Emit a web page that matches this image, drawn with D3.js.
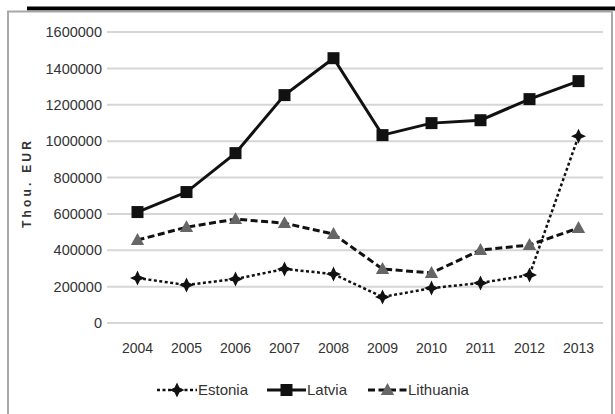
<!DOCTYPE html>
<html>
<head>
<meta charset="utf-8">
<script src="https://cdn.jsdelivr.net/npm/d3@7"></script>
<style>
  html, body { margin: 0; padding: 0; background: #fff; }
  svg { display: block; }
  text { font-family: "Liberation Sans", Arial, sans-serif; fill: #333; }
</style>
</head>
<body>
<svg id="chart" width="615" height="414"></svg>
<script>
// Years on the category axis
const years = ["2004", "2005", "2006", "2007", "2008", "2009", "2010", "2011", "2012", "2013"];
// Tick values on the value axis (thousand EUR)
const yTicks = [0, 200000, 400000, 600000, 800000, 1000000, 1200000, 1400000, 1600000];
// Series values, thousand EUR
const estonia   = [247000, 209000, 242000, 297000, 269000, 143000, 192000, 220000, 264000, 1027000];
const latvia    = [610000, 720000, 934000, 1253000, 1456000, 1033000, 1099000, 1115000, 1231000, 1330000];
const lithuania = [456000, 527000, 571000, 549000, 489000, 297000, 275000, 401000, 429000, 522000];
const seriesNames = ["Estonia", "Latvia", "Lithuania"];

const svg = d3.select("#chart");

// frame and heading rule
svg.append("rect").attr("x", 27).attr("y", 6.5).attr("width", 590).attr("height", 4).attr("fill", "#000");
svg.append("path")
  .attr("d", "M8,414 L8,11.5 L612,11.5 L612,414")
  .attr("fill", "none").attr("stroke", "#a8a8a8").attr("stroke-width", 2);

const x = d3.scaleBand().domain(years).range([113, 603]).paddingInner(0).paddingOuter(0);
const y = d3.scaleLinear().domain([0, 1600000]).range([323, 32]);
const cx = d => x(d) + x.bandwidth() / 2;

// horizontal gridlines
svg.append("g").selectAll("line").data(yTicks).join("line")
  .attr("x1", 107).attr("x2", 603)
  .attr("y1", d => y(d)).attr("y2", d => y(d))
  .attr("stroke", "#d6d6d6").attr("stroke-width", 2);

// value axis labels
const yAxis = d3.axisLeft(y).tickValues(yTicks).tickSize(0).tickPadding(0).tickFormat(d3.format("d"));
const gy = svg.append("g").attr("transform", "translate(102,0)").call(yAxis);
gy.select(".domain").remove();
gy.selectAll("text").style("font-size", "14.5px").attr("fill", "#333")
  .attr("font-family", "Liberation Sans, Arial, sans-serif");

// category axis labels
const xAxis = d3.axisBottom(x).tickSize(0).tickPadding(0);
const gx = svg.append("g").attr("transform", "translate(0,343)").call(xAxis);
gx.select(".domain").remove();
gx.selectAll("text").style("font-size", "14px").attr("fill", "#333")
  .attr("font-family", "Liberation Sans, Arial, sans-serif");

// axis title
svg.append("text")
  .attr("transform", "translate(31,183) rotate(-90)")
  .attr("text-anchor", "middle")
  .style("font-size", "12px").style("font-weight", "bold").style("letter-spacing", "3.2px")
  .attr("fill", "#222")
  .text("Thou. EUR");

// four-pointed star used for the Estonia markers
function starPath(r) {
  const i = r * 0.32;
  return `M0,${-r} L${i},${-i} L${r},0 L${i},${i} L0,${r} L${-i},${i} L${-r},0 L${-i},${-i} Z`;
}
function squarePath(s) {
  return `M${-s},${-s} H${s} V${s} H${-s} Z`;
}
function trianglePath(s) {
  return `M0,${-s} L${s * 0.95},${s * 0.7} L${-s * 0.95},${s * 0.7} Z`;
}

const styles = {
  Estonia:   { values: estonia,   dash: "3,2.5",   width: 2.5, marker: starPath(7.5),    fill: "#111" },
  Latvia:    { values: latvia,    dash: null,      width: 3,   marker: squarePath(6),    fill: "#111" },
  Lithuania: { values: lithuania, dash: "7,3.5",   width: 3,   marker: trianglePath(7), fill: "#666" }
};

const line = d3.line().x((d, i) => cx(years[i])).y(d => y(d));

const drawOrder = ["Lithuania", "Estonia", "Latvia"];
drawOrder.forEach(name => {
  const s = styles[name];
  svg.append("path")
    .datum(s.values)
    .attr("d", line)
    .attr("fill", "none")
    .attr("stroke", "#111")
    .attr("stroke-width", s.width)
    .attr("stroke-dasharray", s.dash);
  svg.append("g").selectAll("path").data(s.values).join("path")
    .attr("transform", (d, i) => `translate(${cx(years[i])},${y(d)})`)
    .attr("d", s.marker)
    .attr("fill", s.fill);
});

// legend
const legendItems = [
  { name: "Estonia", x0: 157, x1: 197 },
  { name: "Latvia", x0: 267, x1: 306 },
  { name: "Lithuania", x0: 368, x1: 407 }
];
const lg = svg.append("g");
legendItems.forEach(it => {
  const s = styles[it.name];
  lg.append("line")
    .attr("x1", it.x0).attr("x2", it.x1).attr("y1", 390).attr("y2", 390)
    .attr("stroke", "#111").attr("stroke-width", s.width)
    .attr("stroke-dasharray", s.dash);
  lg.append("path")
    .attr("transform", `translate(${(it.x0 + it.x1) / 2},390)`)
    .attr("d", s.marker).attr("fill", s.fill);
  lg.append("text")
    .attr("x", it.x1 + 1).attr("y", 390).attr("dy", "0.35em")
    .style("font-size", "15px").attr("fill", "#333")
    .text(it.name);
});
</script>
</body>
</html>
